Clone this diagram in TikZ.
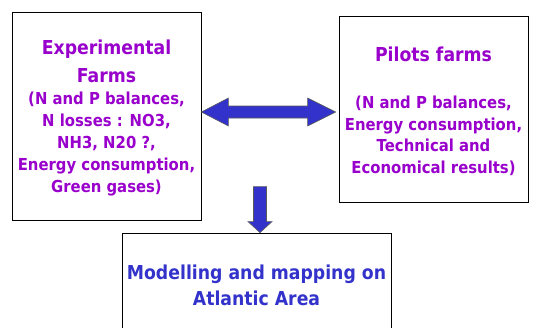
\documentclass[tikz,border=0pt]{standalone}
\usepackage{fontspec}
\setmainfont{DejaVu Sans}[FakeStretch=0.9]
\usetikzlibrary{calc}
\definecolor{farmpurple}{HTML}{9900CC}
\definecolor{modelblue}{HTML}{3333CC}
\definecolor{arrowfill}{HTML}{3333CC}
\begin{document}
\begin{tikzpicture}[x=1pt,y=-1pt,
  box/.style={draw=black, line width=0.8pt, fill=white, align=center, inner sep=0pt},
  farmtext/.style={text=farmpurple, font=\bfseries\fontsize{16.5}{22}\selectfont},
  modeltext/.style={text=modelblue, font=\bfseries\fontsize{19.2}{26}\selectfont},
  fatarrow/.style={fill=arrowfill, draw=black!65, line width=0.6pt, line join=miter}]
\useasboundingbox (0,0) rectangle (534,327);
\node[box, farmtext, minimum width=189pt, minimum height=208pt] (exp) at (106.5,116)
  {{\fontsize{19.2}{28}\selectfont\rule{0pt}{17.6pt}Experimental}\\[6pt]
   {\fontsize{19.2}{28}\selectfont Farms}\\
   (N and P balances,\\
   N losses : NO3,\\
   NH3, N20 ?,\\
   Energy consumption,\\
   Green gases)};
\node[box, farmtext, minimum width=189pt, minimum height=186pt] (pil) at (433.5,109)
  {{\fontsize{19.2}{28}\selectfont\rule{0pt}{18.8pt}Pilots farms}\\[25pt]
   (N and P balances,\\[-0.5pt]
   Energy consumption,\\[-0.5pt]
   Technical and\\[-0.5pt]
   Economical results)};
\node[box, modeltext, minimum width=269pt, minimum height=104pt] (mod) at (256.5,285)
  {Modelling and mapping on\\ Atlantic Area};
\coordinate (dl) at ($(exp.east)+(0,-4)$);
\coordinate (dr) at ($(pil.west)+(-3,3)$);
\draw[fatarrow] (dl) -- ($(dl)+(27,-14)$) -- ($(dl)+(27,-6)$) -- ($(dr)+(-28,-6)$)
  -- ($(dr)+(-28,-14)$) -- (dr) -- ($(dr)+(-28,14)$) -- ($(dr)+(-28,6)$)
  -- ($(dl)+(27,6)$) -- ($(dl)+(27,14)$) -- cycle;
\coordinate (dt) at ($(mod.north)+(3.5,0)$);
\draw[fatarrow] (dt) -- ($(dt)+(12,-11)$) -- ($(dt)+(6.5,-11)$) -- ($(dt)+(6.5,-46)$)
  -- ($(dt)+(-6.5,-46)$) -- ($(dt)+(-6.5,-11)$) -- ($(dt)+(-12,-11)$) -- cycle;
\end{tikzpicture}
\end{document}
